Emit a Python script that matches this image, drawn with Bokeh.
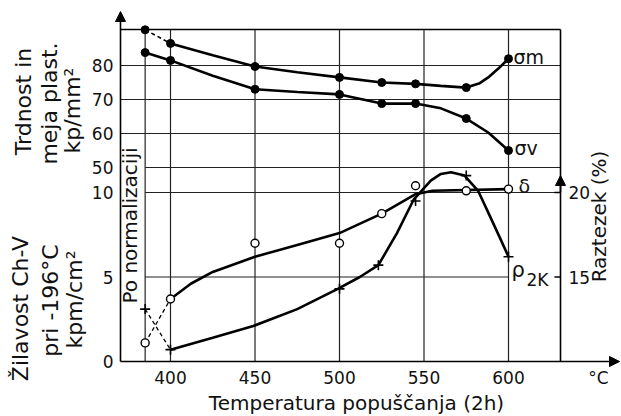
import math
from bokeh.plotting import figure
from bokeh.models import Range1d, Label, Arrow, NormalHead
from bokeh.core.properties import value
from bokeh.embed import file_html
from bokeh.resources import INLINE

FONT = "DejaVu Sans"

# ---------------- data ----------------
# strength (upper panel, kp/mm2)
strength_t = [385, 400, 450, 500, 525, 545, 575, 600]
sigma_m = [90.5, 86.5, 79.7, 76.5, 75.0, 74.6, 73.5, 82.0]
sigma_v = [83.8, 81.5, 73.0, 71.5, 68.8, 68.8, 64.4, 55.0]
# traced curves of the drawing
sm_curve_t = [400, 425, 450, 475, 500, 525, 545, 560, 575, 583, 588, 594, 600]
sm_curve = [86.5, 83.0, 79.7, 78.0, 76.5, 75.0, 74.6, 74.0, 73.5, 74.8, 76.5, 79.1, 82.0]
sv_curve_t = [385, 400, 425, 450, 475, 500, 525, 545, 560, 575, 588, 600]
sv_curve = [83.8, 81.5, 77.0, 73.0, 72.2, 71.5, 68.8, 68.8, 67.4, 64.4, 60.3, 55.0]

# elongation delta (%) - right axis
delta_t = [385, 400, 450, 500, 525, 545, 575, 600]
delta = [11.1, 13.7, 17.0, 17.0, 18.75, 20.4, 20.1, 20.2]
delta_curve_t = [400, 412, 425, 450, 475, 500, 525, 545, 555, 600]
delta_curve = [13.7, 14.6, 15.3, 16.2, 16.9, 17.6, 18.75, 19.9, 20.1, 20.2]

# impact toughness rho_2K (kpm/cm2) - lower left axis
rho_t = [385, 400, 500, 523, 545, 575, 600]
rho = [3.1, 0.7, 4.3, 5.7, 9.5, 11.0, 6.2]
rho_curve_t = [400, 425, 449, 475, 499, 512, 523, 534, 544, 554, 560, 566, 574,
               582, 589, 595, 600]
rho_curve = [0.7, 1.4, 2.1, 3.1, 4.3, 5.0, 5.7, 7.6, 9.6, 10.7, 11.1, 11.2, 11.0,
             10.1, 8.6, 7.3, 6.2]

x_ticks = [400, 450, 500, 550, 600]
v_grid = [385, 400, 450, 500, 550, 600]
upper_ticks = [50, 60, 70, 80]
lower_ticks = [0, 5, 10]
right_ticks = [15, 20]

# ---------------- geometry (page pixels -> data) ----------------
W, H = 620, 415
PX_PER_C = 1.69


def tx(px):
    return 400 + (px - 170) / PX_PER_C


def ly(py):  # lower panel units (kpm/cm2)
    return (361 - py) / 16.9


def uy(py):  # upper panel units (kp/mm2)
    return 50 + (167 - py) / 3.4


X0, X1 = tx(120), tx(560)
TOP = ly(29)

p = figure(width=W, height=H, x_range=Range1d(tx(0), tx(W)),
           y_range=Range1d(ly(H), ly(0)), output_backend="svg",
           toolbar_location=None, title=None,
           x_axis_location=None, y_axis_location=None, min_border=0)
p.extra_y_ranges = {"upper": Range1d(uy(H), uy(0)),
                    "right": Range1d(ly(H) + 10, ly(0) + 10)}
p.outline_line_color = None
p.grid.visible = False

GRID = dict(line_color="#222222", line_width=1.2)
# vertical grid lines through both panels
p.segment(x0=v_grid, y0=[0] * len(v_grid), x1=v_grid, y1=[TOP] * len(v_grid), **GRID)
# upper panel horizontal lines and box
up_y = [80, 70, 60, 50]
up_x0 = [X0, X0, X0, 385]
p.segment(x0=up_x0, y0=up_y, x1=[X1] * 4, y1=up_y, y_range_name="upper", **GRID)
p.segment(x0=[X0], y0=[TOP], x1=[X1], y1=[TOP], line_color="black", line_width=1.5)
p.segment(x0=[X1], y0=[0], x1=[X1], y1=[TOP], line_color="black", line_width=1.6)
# lower panel horizontal lines
p.segment(x0=[385, 385], y0=[10, 5], x1=[X1, 600], y1=[10, 5], **GRID)
# right axis inner ticks
p.segment(x0=[X1 - 3.6] * 2, y0=right_ticks, x1=[X1] * 2, y1=right_ticks,
          y_range_name="right", line_color="black", line_width=1.5)

# axis arrows
head = dict(size=10, fill_color="black", line_color="black")
p.add_layout(Arrow(end=NormalHead(**head), x_start=X0, y_start=0, x_end=tx(619), y_end=0,
                   line_width=1.6))
p.add_layout(Arrow(end=NormalHead(**head), x_start=X0, y_start=0, x_end=X0, y_end=ly(11),
                   line_width=1.6))
p.add_layout(Arrow(end=NormalHead(**head), x_start=X1, y_start=10.0, x_end=X1, y_end=ly(175),
                   line_width=1.6))

# tick labels
TICK = dict(text_font=value(FONT), text_font_size=value("17px"), text_color="#111111",
            text_baseline="middle")
p.text(x=x_ticks, y=[ly(377)] * len(x_ticks), text=[str(t) for t in x_ticks],
       text_align="center", **TICK)
p.text(x=[X0] * len(lower_ticks), y=lower_ticks, text=[str(t) for t in lower_ticks],
       x_offset=-7, text_align="right", **TICK)
p.text(x=[X0] * len(upper_ticks), y=upper_ticks, text=[str(t) for t in upper_ticks],
       x_offset=-7, text_align="right", y_range_name="upper", **TICK)
p.text(x=[X1] * len(right_ticks), y=right_ticks, text=[str(t) for t in right_ticks],
       x_offset=8, text_align="left", y_range_name="right", **TICK)

# ---------------- curves ----------------
LW = 2.6
p.line(sm_curve_t, sm_curve, y_range_name="upper", line_color="black", line_width=LW)
p.line(strength_t[:2], sigma_m[:2], y_range_name="upper", line_color="black",
       line_width=1.6, line_dash="4 3")
p.line(sv_curve_t, sv_curve, y_range_name="upper", line_color="black", line_width=LW)
p.scatter(strength_t, sigma_m, y_range_name="upper", marker="circle", size=8, color="black")
p.scatter(strength_t, sigma_v, y_range_name="upper", marker="circle", size=8, color="black")

p.line(delta_curve_t, delta_curve, y_range_name="right", line_color="black", line_width=LW)
p.line(delta_t[:2], delta[:2], y_range_name="right", line_color="black",
       line_width=1.3, line_dash="4 3")
p.line(rho_curve_t, rho_curve, line_color="black", line_width=LW)
p.line(rho_t[:2], rho[:2], line_color="black", line_width=1.3, line_dash="4 3")
p.scatter(delta_t, delta, y_range_name="right", marker="circle", size=8,
          fill_color="white", line_color="black", line_width=1.4)
p.scatter(rho_t, rho, marker="cross", size=10, line_color="black", line_width=1.6)


# ---------------- texts ----------------
def lab(text, px, py, size, angle=0.0, align="center"):
    p.add_layout(Label(x=tx(px), y=ly(py), text=text, angle=angle, text_align=align,
                       text_baseline="middle", text_font=FONT,
                       text_font_size=f"{size}px", text_color="#111111"))


R = math.pi / 2
lab("Trdnost in", 23, 101, 22, R)
lab("meja plast.", 49, 103, 22, R)
lab("kp/mm²", 72, 110, 22, R)
lab("Žilavost Ch-V", 20, 308, 22, R)
lab("pri -196°C", 50, 300, 22, R)
lab("kpm/cm²", 74, 299, 22, R)
lab("Po normalizaciji", 129, 225, 20, R)
lab("Raztezek (%)", 598, 216, 20, R)
lab("Temperatura popuščanja (2h)", 356, 402, 20)
lab("°C", 598, 377, 17)
lab("σm", 513, 56, 19, align="left")
lab("σv", 514, 147, 19, align="left")
lab("δ", 518, 185, 19, align="left")
lab("ρ", 511, 269, 21, align="left")
lab("2K", 526, 279, 17, align="left")

open("out.html", "w").write(file_html(p, INLINE))
